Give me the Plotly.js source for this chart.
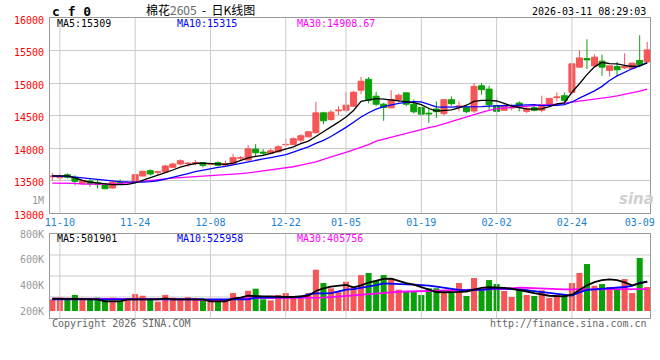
<!DOCTYPE html>
<html><head><meta charset="utf-8">
<script src="https://cdn.plot.ly/plotly-3.0.1.min.js"></script>
<style>html,body{margin:0;padding:0;background:#fff}#chart{width:660px;height:360px}</style>
</head><body><div id="chart"></div>
<script>
const dates = ['2025-11-07','2025-11-10','2025-11-11','2025-11-12','2025-11-13','2025-11-14','2025-11-17','2025-11-18','2025-11-19','2025-11-20','2025-11-21','2025-11-24','2025-11-25','2025-11-26','2025-11-27','2025-11-28','2025-12-01','2025-12-02','2025-12-03','2025-12-04','2025-12-05','2025-12-08','2025-12-09','2025-12-10','2025-12-11','2025-12-12','2025-12-15','2025-12-16','2025-12-17','2025-12-18','2025-12-19','2025-12-22','2025-12-23','2025-12-24','2025-12-25','2025-12-26','2025-12-29','2025-12-30','2025-12-31','2026-01-05','2026-01-06','2026-01-07','2026-01-08','2026-01-09','2026-01-12','2026-01-13','2026-01-14','2026-01-15','2026-01-16','2026-01-19','2026-01-20','2026-01-21','2026-01-22','2026-01-23','2026-01-26','2026-01-27','2026-01-28','2026-01-29','2026-01-30','2026-02-02','2026-02-03','2026-02-04','2026-02-05','2026-02-06','2026-02-09','2026-02-10','2026-02-11','2026-02-12','2026-02-13','2026-02-24','2026-02-25','2026-02-26','2026-02-27','2026-03-02','2026-03-03','2026-03-04','2026-03-05','2026-03-06','2026-03-09','2026-03-10'];

const openP  = [13560,13545,13593,13553,13461,13496,13471,13440,13389,13481, 13468,13481,13573,13655,13630,13634,13706,13757,13762,13773, 13778,13752,13778,13740,13755,13848,13818,13986,13940,13920, 13945,14053,14058,14124,14175,14237,14543,14441,14574,14584, 14645,14891,15059,14799,14676,14620,14748,14850,14676,14625, 14538,14602,14531,14745,14638,14622,14571,14959,14908,14653, 14582,14617,14694,14566,14622,14582,14673,14776,14806,14857, 15245,15377,15265,15336,15194,15255,15235,15224,15347,15326];
const highP  = [13620,13610,13614,13583,13512,13522,13522,13450,13491,13522, 13490,13604,13655,13676,13655,13747,13778,13829,13788,13818, 13788,13783,13798,13808,13910,13879,14048,14063,13986,13996, 14048,14150,14165,14216,14267,14712,14559,14584,14645,14865, 14880,15095,15095,14865,14697,14891,14840,14850,14748,14645, 14625,14719,14755,14796,14719,14643,15000,15000,14959,14786, 14673,14683,14719,14633,14653,14806,14775,14857,14857,15306, 15500,15673,15438,15438,15265,15326,15459,15316,15734,15632];
const lowP   = [13500,13500,13532,13430,13450,13409,13378,13370,13378,13440, 13455,13471,13563,13583,13583,13624,13696,13737,13716,13737, 13706,13737,13727,13727,13745,13818,13808,13869,13879,13900, 13930,14022,14048,14083,14160,14226,14369,14420,14508,14559, 14635,14829,14690,14645,14421,14610,14700,14645,14533,14492, 14390,14464,14500,14653,14566,14541,14541,14821,14592,14490, 14570,14582,14566,14541,14566,14551,14663,14719,14684,14821, 15235,15214,15255,15112,15102,15112,15214,15214,15245,15316];
const closeP = [13570,13560,13553,13491,13501,13455,13440,13378,13481,13461, 13475,13593,13645,13604,13636,13727,13757,13808,13768,13779, 13737,13758,13737,13765,13855,13853,13991,13930,13925,13961, 14022,14058,14145,14191,14252,14543,14421,14553,14584,14661, 14860,15029,14737,14676,14625,14748,14814,14676,14559,14523, 14528,14561,14745,14684,14648,14561,14949,14898,14668,14566, 14653,14628,14633,14612,14582,14668,14765,14786,14735,15296, 15387,15357,15398,15245,15265,15204,15255,15306,15285,15510];

const ma5  = [13575,13578,13575,13545,13505,13480,13465,13450,13442,13440, 13445,13468,13510,13545,13590,13625,13665,13710,13740,13765, 13770,13765,13760,13752,13770,13810,13850,13875,13890,13920, 13950,13990,14020,14070,14110,14180,14250,14320,14400,14480, 14580,14720,14745,14760,14755,14740,14725,14715,14700,14670, 14610,14570,14575,14590,14620,14660,14720,14735,14735,14725, 14690,14645,14625,14605,14600,14605,14640,14680,14695,14860, 14990,15130,15250,15320,15300,15294,15273,15255,15263,15309];
const ma10 = [13573,13573,13568,13555,13540,13530,13520,13510,13495,13488, 13482,13480,13480,13488,13500,13525,13550,13580,13610,13640, 13665,13685,13705,13720,13745,13765,13790,13815,13835,13855, 13875,13900,13940,13980,14020,14075,14120,14180,14245,14320, 14400,14480,14545,14600,14640,14670,14690,14705,14715,14712, 14670,14635,14630,14630,14633,14633,14635,14640,14645,14650, 14655,14660,14665,14668,14668,14655,14655,14660,14668,14710, 14770,14820,14880,14950,15040,15110,15170,15220,15265,15315];
const ma30 = [13465,13465,13462,13460,13450,13447,13445,13445,13447,13455, 13468,13480,13495,13507,13515,13525,13540,13548,13555,13565, 13572,13577,13580,13590,13600,13610,13620,13635,13650,13668, 13680,13695,13715,13740,13765,13790,13830,13860,13900,13935, 13975,14015,14055,14110,14140,14170,14205,14235,14260,14290, 14315,14340,14375,14410,14450,14490,14520,14550,14580,14605, 14618,14628,14638,14645,14653,14660,14668,14676,14690,14705, 14720,14735,14750,14765,14785,14805,14825,14850,14875,14909];

const volume = [291,303,296,325,291,291,304,290,304,283, 291,332,319,291,273,325,304,291,307,291, 283,288,280,288,340,304,358,374,291,283, 325,340,304,314,340,522,418,377,346,428, 387,480,496,434,480,455,366,356,356,325, 377,377,346,351,418,317,457,372,441,410, 356,309,366,325,317,361,301,325,325,418, 496,566,397,410,387,366,449,340,613,387];
const volMa5  = [296,296,291,291,291,291,291,275,275,275, 291,291,291,291,291,299,291,291,291,291, 291,275,275,275,296,304,319,314,314,314, 309,309,309,315,319,356,377,390,397,403, 385,400,422,438,450,452,434,418,405,385, 365,348,346,346,349,352,366,380,385,385, 380,375,366,352,340,328,319,316,314,327, 365,400,425,440,447,441,423,400,415,428];
const volMa10 = [291,291,291,291,291,291,291,291,291,291, 291,291,291,291,291,291,291,291,291,291, 291,291,291,291,291,291,291,304,304,304, 304,309,309,309,330,338,338,340,352,366, 371,380,390,402,415,414,411,408,405,402, 398,390,382,370,364,361,366,365,370,377, 374,371,366,362,355,348,340,335,325,320, 345,364,369,372,377,382,387,395,420,428];
const volMa30 = [296,296,296,296,296,296,296,296,296,296, 291,291,291,291,291,291,291,291,291,291, 285,281,281,281,299,299,299,299,299,299, 299,299,299,299,304,304,304,308,312,319, 322,327,330,333,340,345,350,352,353,354, 355,356,358,361,364,366,367,368,369,370, 371,378,382,380,377,373,371,370,369,369, 369,370,372,374,374,374,374,374,372,371];

const tickDates  = ['2025-11-10','2025-11-24','2025-12-08','2025-12-22','2026-01-05','2026-01-19','2026-02-02','2026-02-24','2026-03-09'];
const tickLabels = ['11-10','11-24','12-08','12-22','01-05','01-19','02-02','02-24','03-09'];
const gridDates  = ['2025-11-10','2025-11-24','2025-12-08','2025-12-22','2026-01-05','2026-01-19','2026-02-02','2026-02-24'];
const priceTicks = [13000,13500,14000,14500,15000,15500,16000];
const priceTickLabels = ['13000','13500','14000','14500','15000','15500','16000'];
const volTickVals = [200,400,600,800];
const volTickLabels = ['200K','400K','600K','800K'];
const volBase = 200;

const titleCode = 'c f 0';
const titleName = '棉花<span style="color:#666">2605</span>&nbsp; - &nbsp;日K线图';
const timeStamp = '2026-03-11 08:29:03';
const priceMaLabels = ['MA5:15309','MA10:15315','MA30:14908.67'];
const volMaLabels = ['MA5:501901','MA10:525958','MA30:405756'];

const RED = '#f65656', GREEN = '#0aa00a';
const MONO = 'DejaVu Sans Mono, monospace';
const maColors = ['#000000','#0000ff','#ff00ff'];

const candleColor = closeP.map((c,i)=> c >= openP[i] ? RED : GREEN);

const GRID = '#cbcbcb';
const gridTrace = (xs, ys, xa, ya) => ({type:'scatter', mode:'lines', x:xs, y:ys, xaxis:xa, yaxis:ya,
  line:{color:GRID, width:1}, hoverinfo:'skip', connectgaps:false, cliponaxis:true});

// vertical grid lines through the tick dates (built from the arrays)
const vgx = [], vgy = [], vgy2 = [];
gridDates.forEach(d=>{ vgx.push(d, d, null); vgy.push(13000, 16000, null); vgy2.push(145.5, 800, null); });

const traces = [
  gridTrace(vgx, vgy, 'x', 'y'),
  gridTrace(vgx, vgy2, 'x2', 'y2'),
  {type:'candlestick', x:dates, open:openP, high:highP, low:lowP, close:closeP,
   xaxis:'x', yaxis:'y', whiskerwidth:0, hoverinfo:'skip',
   increasing:{line:{color:RED,width:1}, fillcolor:RED},
   decreasing:{line:{color:GREEN,width:1}, fillcolor:GREEN}},
  {type:'scatter', mode:'lines', x:dates, y:ma30, xaxis:'x', yaxis:'y', line:{color:maColors[2], width:1.3}, hoverinfo:'skip'},
  {type:'scatter', mode:'lines', x:dates, y:ma10, xaxis:'x', yaxis:'y', line:{color:maColors[1], width:1.3}, hoverinfo:'skip'},
  {type:'scatter', mode:'lines', x:dates, y:ma5, xaxis:'x', yaxis:'y', line:{color:maColors[0], width:1.3}, hoverinfo:'skip'},
  {type:'bar', x:dates, y:volume.map(v=>v-volBase), base:volBase, xaxis:'x2', yaxis:'y2',
   width:0.8, marker:{color:candleColor, line:{width:0}}, hoverinfo:'skip'},
  {type:'scatter', mode:'lines', x:dates, y:volMa30, xaxis:'x2', yaxis:'y2', line:{color:maColors[2], width:1.8}, hoverinfo:'skip'},
  {type:'scatter', mode:'lines', x:dates, y:volMa10, xaxis:'x2', yaxis:'y2', line:{color:maColors[1], width:1.8}, hoverinfo:'skip'},
  {type:'scatter', mode:'lines', x:dates, y:volMa5, xaxis:'x2', yaxis:'y2', line:{color:maColors[0], width:1.8}, hoverinfo:'skip'}
];

const shapes = [];
[0.07,0.14,0.21].forEach(f=>{
  shapes.push({type:'line', xref:'paper', yref:'paper', x0:0, x1:1, y0:f, y1:f, line:{color:GRID, width:1}, layer:'below'});
});

const txt = (text, x, y, xanchor, color, size, extra) => Object.assign({
  text, x, y, xref:'paper', yref:'paper', xanchor, yanchor:'middle', showarrow:false,
  font:{family:MONO, size:size||10, color:color||'#000'}}, extra||{});

const annotations = [
  txt(titleCode, 0, 1.022, 'left', '#000', 13, {font:{family:MONO, size:13, color:'#000', weight:'bold'}}),
  txt(titleName, 0.25, 1.028, 'center', '#000', 12, {font:{family:'Noto Sans CJK SC', size:12, color:'#000'}}),
  txt(timeStamp, 0.9967, 1.02, 'right', '#000', 10),
  txt(priceMaLabels[0], 0.0083, 0.9817, 'left', maColors[0]),
  txt(priceMaLabels[1], 0.2083, 0.9817, 'left', maColors[1]),
  txt(priceMaLabels[2], 0.4083, 0.9817, 'left', maColors[2]),
  txt(volMaLabels[0], 0.0083, 0.2643, 'left', maColors[0]),
  txt(volMaLabels[1], 0.2083, 0.2643, 'left', maColors[1]),
  txt(volMaLabels[2], 0.4083, 0.2643, 'left', maColors[2]),
  txt('1M', -0.0067, 0.3917, 'right', '#999', 10),
  txt('Copyright 2026 SINA.COM', 0, -0.0183, 'left', '#666', 10),
  txt('http://finance.sina.com.cn', 0.9983, -0.0183, 'right', '#666', 10),
  txt('<i><b>sina</b></i>', 0.977, 0.397, 'center', '#cfcfcf', 15, {font:{family:'DejaVu Sans', size:15, color:'#cfcfcf'}})
];

const axisLine = {showline:true, mirror:true, linecolor:'#999999', linewidth:1, zeroline:false};

const layout = {
  width:660, height:360,
  margin:{l:50, r:10, t:18, b:42, pad:0},
  paper_bgcolor:'#ffffff', plot_bgcolor:'#ffffff',
  showlegend:false, dragmode:false, hovermode:false,
  boxgap:0.2, boxgroupgap:0,
  xaxis: Object.assign({type:'category', categoryorder:'array', categoryarray:dates,
    range:[-0.31, 79.37], anchor:'y', domain:[0,1],
    tickmode:'array', tickvals:tickDates, ticktext:tickLabels, ticks:'', showgrid:false,
    tickfont:{family:MONO, size:10, color:'#1a82d2'}, rangeslider:{visible:false}, fixedrange:true}, axisLine),
  yaxis: Object.assign({domain:[0.349,1], range:[13000,16000], anchor:'x',
    tickmode:'array', tickvals:priceTicks, ticktext:priceTickLabels, ticks:'', ticklabelstandoff:3, ticklabelshift:2,
    tickfont:{family:MONO, size:10, color:'#ff0000'},
    showgrid:true, gridcolor:GRID, gridwidth:1, fixedrange:true}, axisLine),
  xaxis2: Object.assign({type:'category', matches:'x', anchor:'y2', showticklabels:false, ticks:'', showgrid:false, fixedrange:true}, axisLine),
  yaxis2: Object.assign({domain:[0,0.28], range:[145.5,800], anchor:'x2',
    tickmode:'array', tickvals:volTickVals, ticktext:volTickLabels, ticks:'', ticklabelstandoff:3,
    tickfont:{family:MONO, size:10, color:'#999999'}, showgrid:false, fixedrange:true}, axisLine),
  shapes, annotations
};

Plotly.newPlot('chart', traces, layout, {staticPlot:true, displayModeBar:false});
</script>
</body></html>
